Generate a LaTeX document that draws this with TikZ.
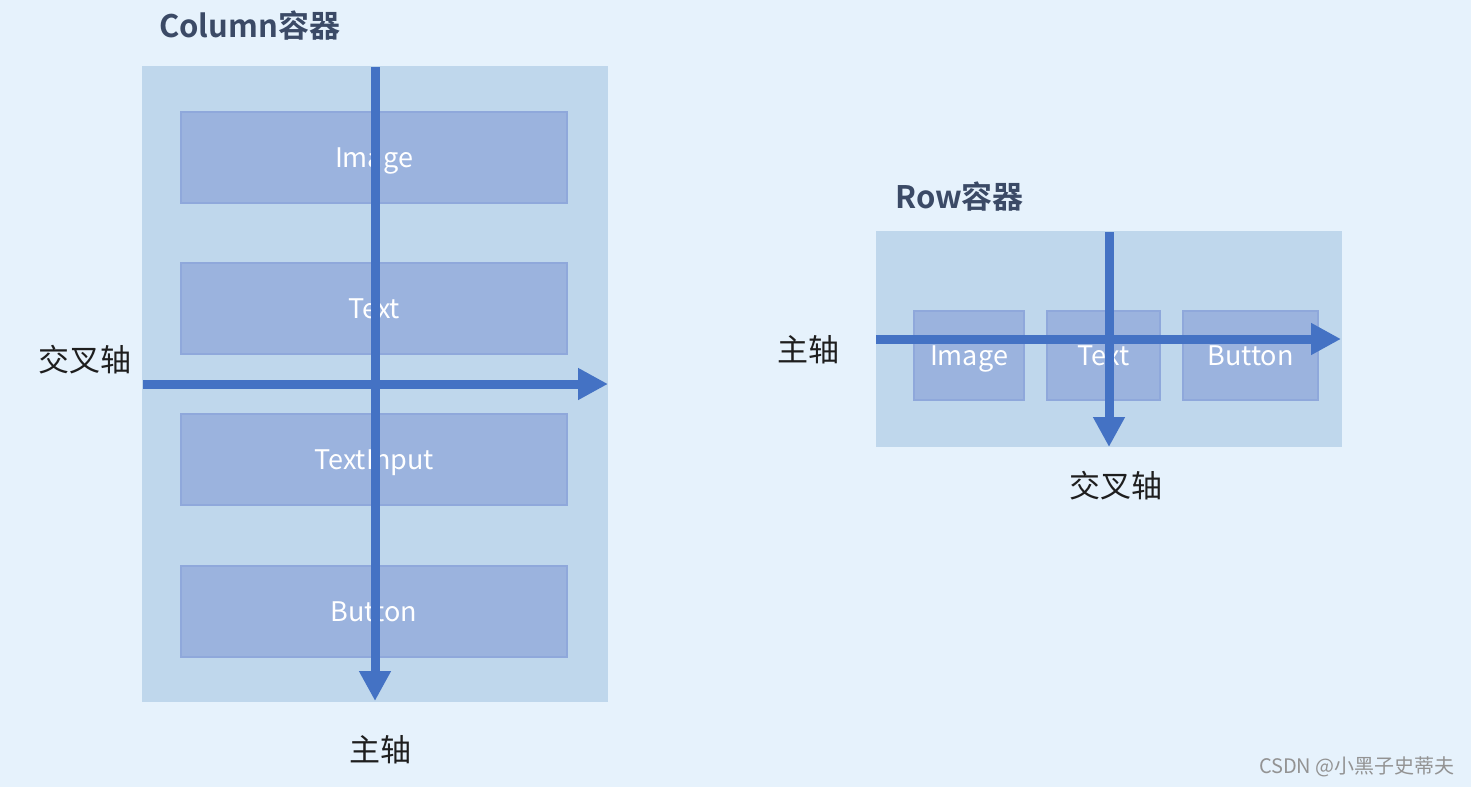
\documentclass[tikz,border=0pt]{standalone}
\usepackage{fontspec}
\setmainfont{Noto Sans}
\newfontfamily\cjk{Noto Sans CJK SC}[BoldFont={Noto Sans CJK SC Bold}]
\usetikzlibrary{arrows.meta}
\definecolor{bg}{HTML}{E6F2FC}
\definecolor{outer}{HTML}{BFD7EC}
\definecolor{inner}{HTML}{9BB3DE}
\definecolor{innerb}{HTML}{8FA8DB}
\definecolor{axis}{HTML}{4472C4}
\definecolor{title}{HTML}{3B4A66}
\definecolor{lab}{HTML}{1E1E1E}
\tikzset{
  container/.style={fill=outer, draw=none},
  item/.style={fill=inner, draw=innerb, line width=1.2pt, text=white, font=\fontsize{27}{27}\selectfont\cjk, text height=19pt, text depth=0pt},
  axisarrow/.style={draw=axis, line width=9pt, -{Triangle[length=30pt,width=30pt]}},
  titlelab/.style={text=title, font=\fontsize{31}{31}\selectfont\cjk\bfseries, inner sep=0pt},
  axlab/.style={text=lab, font=\fontsize{31}{31}\selectfont\cjk, inner sep=0pt},
}
\begin{document}
\begin{tikzpicture}[x=1pt,y=-1pt]
\fill[bg] (0,0) rectangle (1471,787);
\useasboundingbox (0,0) rectangle (1471,787);
% Column
\node[titlelab, anchor=west] (ctitle) at (159,26) {Column容器};
\node[container, minimum width=466pt, minimum height=636pt, inner sep=0pt] (col) at (375,384) {};
\node[item, minimum width=386pt, minimum height=91pt] (cimg) at (374,157.5) {Image};
\node[item, minimum width=386pt, minimum height=91pt] (ctext) at (374,308.5) {Text};
\node[item, minimum width=386pt, minimum height=91pt] (cinput) at (374,459.5) {TextInput};
\node[item, minimum width=386pt, minimum height=91pt] (cbtn) at (374,611.5) {Button};
\coordinate (cvs) at (375,67);
\coordinate (cve) at (375,701);
\coordinate (chs) at (143,384);
\coordinate (che) at (608,384);
\draw[axisarrow] (cvs) -- (cve);
\draw[axisarrow] (chs) -- (che);
\node[axlab] (ccross) at (85,360) {交叉轴};
\node[axlab] (cmain) at (380,750) {主轴};
% Row
\node[titlelab, anchor=west] (rtitle) at (895,197) {Row容器};
\node[container, minimum width=466pt, minimum height=216pt, inner sep=0pt] (row) at (1108.5,339) {};
\node[item, minimum width=110pt, minimum height=89pt] (rimg) at (969,355.5) {Image};
\node[item, minimum width=113pt, minimum height=89pt] (rtext) at (1103.5,355.5) {Text};
\node[item, minimum width=135pt, minimum height=89pt] (rbtn) at (1250.5,355.5) {Button};
\coordinate (rhs) at (876,339);
\coordinate (rhe) at (1341,339);
\coordinate (rvs) at (1109,232);
\coordinate (rve) at (1109,447);
\draw[axisarrow] (rhs) -- (rhe);
\draw[axisarrow] (rvs) -- (rve);
\node[axlab] (rmain) at (808,350) {主轴};
\node[axlab] (rcross) at (1116,486) {交叉轴};
% watermark
\node[text=gray!85, font=\fontsize{20}{20}\selectfont\cjk, anchor=east, inner sep=0pt] (wm) at (1455,767) {CSDN @小黑子史蒂夫};
\end{tikzpicture}
\end{document}
